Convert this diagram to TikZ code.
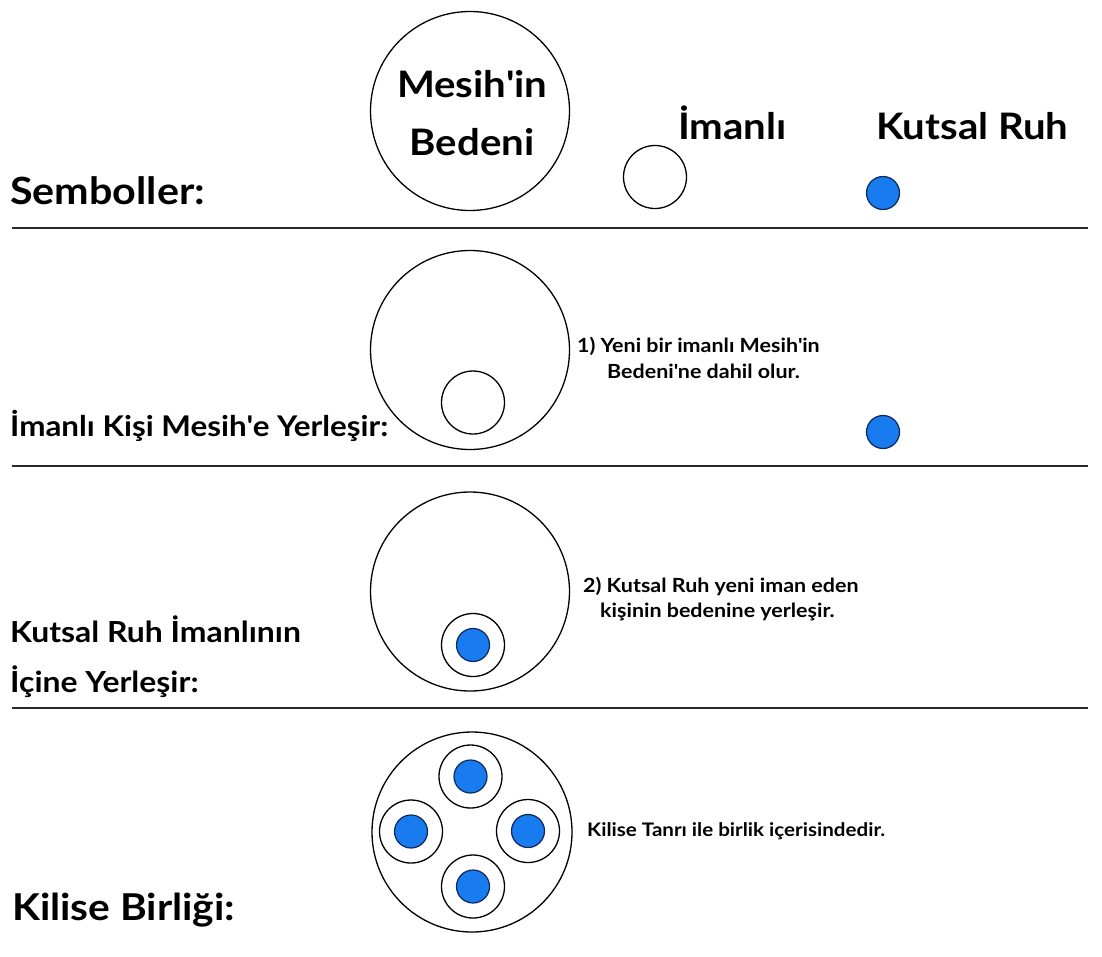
\documentclass[tikz,border=0pt]{standalone}
\usepackage{fontspec}
\setmainfont{Lato}[BoldFont={* Bold},FakeStretch=1.1]
\definecolor{spiritblue}{RGB}{24,124,240}
\definecolor{spiritedge}{RGB}{15,40,90}
\definecolor{rulegray}{RGB}{40,40,40}
\newcommand{\fs}[1]{\fontsize{#1}{#1}\selectfont}
\newcommand{\ap}{\XeTeXglyph\XeTeXcharglyph"27\relax}
\begin{document}
\begin{tikzpicture}[x=1pt,y=-1pt,
  bodycircle/.style={circle,draw=black,line width=1.3pt,minimum size=199pt,inner sep=0pt},
  believer/.style={circle,draw=black,line width=1.3pt,minimum size=63pt,inner sep=0pt},
  spirit/.style={circle,draw=spiritedge,fill=spiritblue,line width=1.2pt,minimum size=33pt,inner sep=0pt},
  heading/.style={anchor=base west,inner sep=0pt,font=\bfseries\fs{#1}},
  heading/.default=36,
  symtext/.style={anchor=base,inner sep=0pt,font=\bfseries\fs{36.5}},
  note/.style={anchor=base west,inner sep=0pt,font=\bfseries\fs{19.5}},
  rule/.style={draw=rulegray,line width=1.5pt}]
\useasboundingbox (0,0) rectangle (1102,956);

% Row 1: symbols
\node[heading=37.5] (sem) at (10,204) {Semboller:};
\node[bodycircle] (body1) at (470,111) {};
\node[symtext] (mesih) at (472,97) {Mesih\ap in};
\node[symtext] (bedeni) at (472,155) {Bedeni};
\node[symtext,anchor=base west] (imanli) at (678,139) {İmanlı};
\node[believer] (bel1) at (655,177) {};
\node[symtext,anchor=base west] (kutsal) at (876,139) {Kutsal Ruh};
\node[spirit] (sp1) at (883,193) {};
\draw[rule] (12,228) -- (1088,228);

% Row 2
\node[heading=28.5] (row2) at (10,436) {İmanlı Kişi Mesih\ap e Yerleşir:};
\node[bodycircle] (body2) at (470,350) {};
\node[believer] (bel2) at (473,402.5) {};
\node[note] (n1a) at (577,352) {1) Yeni bir imanlı Mesih\ap in};
\node[note] (n1b) at (607,378) {Bedeni\ap ne dahil olur.};
\node[spirit] (sp2) at (883,432) {};
\draw[rule] (12,466) -- (1088,466);

% Row 3
\node[heading=29] (row3a) at (10,642) {Kutsal Ruh İmanlının};
\node[heading=29] (row3b) at (10,692) {İçine Yerleşir:};
\node[bodycircle] (body3) at (470,591.5) {};
\node[believer] (bel3) at (473,645) {};
\node[spirit] (sp3) at (473,645) {};
\node[note] (n2a) at (583,592) {2) Kutsal Ruh yeni iman eden};
\node[note] (n2b) at (600,617) {kişinin bedenine yerleşir.};
\draw[rule] (12,708) -- (1088,708);

% Row 4
\node[heading=37] (row4) at (12,920) {Kilise Birliği:};
\node[bodycircle,minimum size=200pt] (body4) at (472,832) {};
\node[believer] (belT) at (470.5,776.5) {};
\node[spirit] (spT) at (470.5,776.5) {};
\node[believer] (belL) at (411,831.5) {};
\node[spirit] (spL) at (411,831.5) {};
\node[believer] (belR) at (528,831) {};
\node[spirit] (spR) at (528,831) {};
\node[believer] (belB) at (473,886.5) {};
\node[spirit] (spB) at (473,886.5) {};
\node[note,font=\bfseries\fs{18.7}] (n3) at (587,836) {Kilise Tanrı ile birlik içerisindedir.};
\end{tikzpicture}
\end{document}
